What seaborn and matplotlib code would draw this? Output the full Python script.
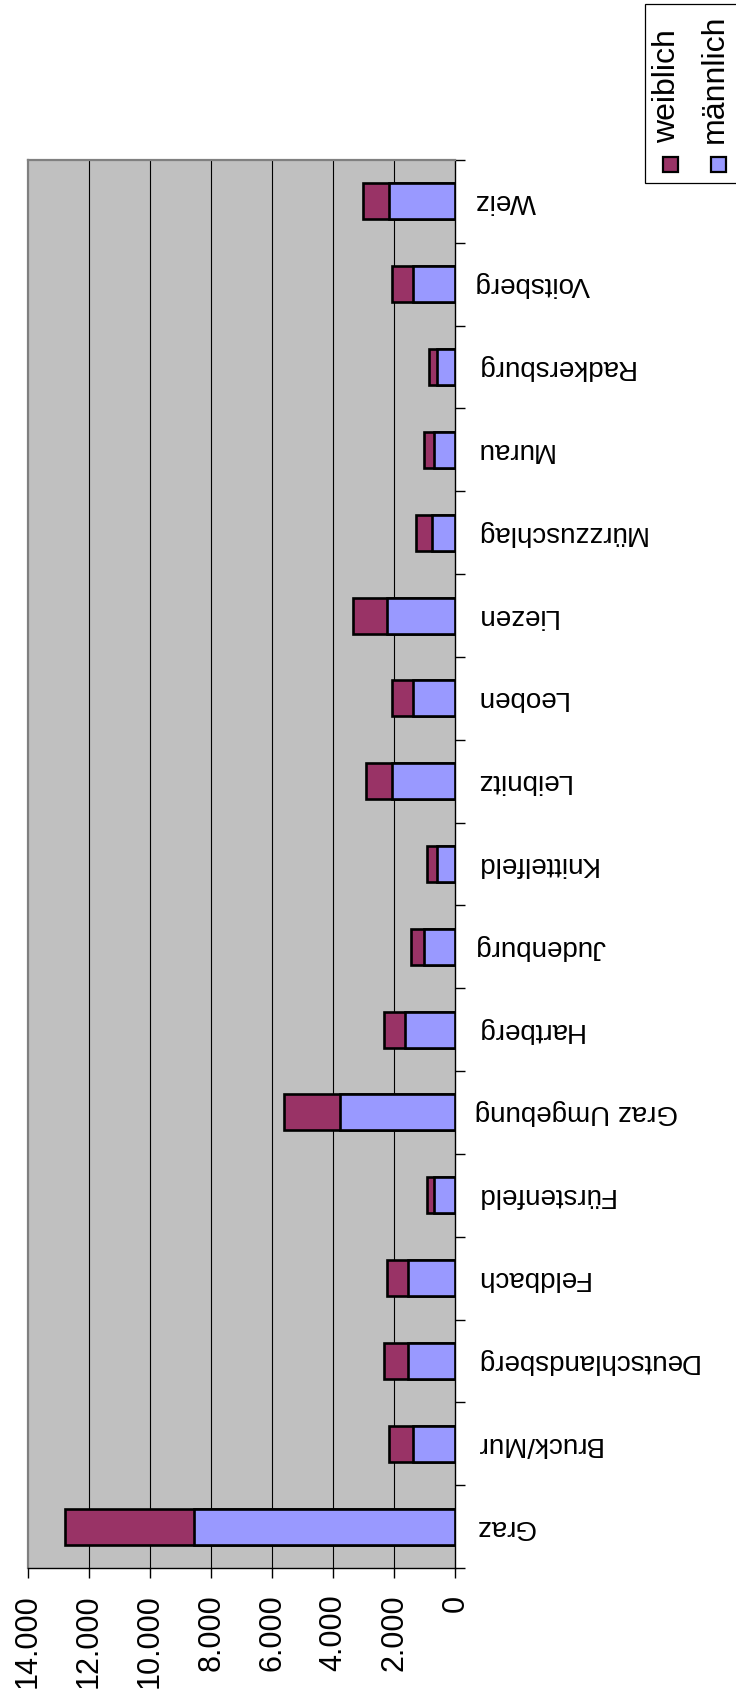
import matplotlib
matplotlib.use('Agg')
import matplotlib.pyplot as plt
import numpy as np
import pandas as pd
import seaborn as sns
from matplotlib.patches import Rectangle

# data (Bezirke, bottom to top)
bezirke = ['Graz', 'Bruck/Mur', 'Deutschlandsberg', 'Feldbach', 'Fürstenfeld',
           'Graz Umgebung', 'Hartberg', 'Judenburg', 'Knittelfeld', 'Leibnitz',
           'Leoben', 'Liezen', 'Mürzzuschlag', 'Murau', 'Radkersburg',
           'Voitsberg', 'Weiz']
maennlich = [8560, 1380, 1540, 1540, 690, 3780, 1640, 1030, 610, 2060,
             1380, 2230, 750, 700, 610, 1380, 2160]
weiblich = [4230, 780, 790, 700, 250, 1830, 690, 430, 330, 870,
            680, 1130, 540, 330, 240, 695, 850]
x_ticks = [0, 2000, 4000, 6000, 8000, 10000, 12000, 14000]
x_tick_labels = ['0', '2.000', '4.000', '6.000', '8.000', '10.000', '12.000', '14.000']
legend_labels = ['weiblich', 'männlich']

plt.rcParams['font.family'] = ['Liberation Sans', 'DejaVu Sans']

W, H = 736, 1700
col_w = '#993366'
col_m = '#9999FF'

df = pd.DataFrame({'bezirk': bezirke, 'maennlich': maennlich, 'weiblich': weiblich})
df['gesamt'] = df['maennlich'] + df['weiblich']

fig = plt.figure(figsize=(W / 100, H / 100), dpi=100)
ax = fig.add_axes([28 / W, 1 - 1568 / H, (455.3 - 28) / W, (1568 - 160) / H])
ax.set_facecolor('#C0C0C0')

# grid first
for t in x_ticks[1:-1]:
    ax.axvline(t, color='black', lw=0.8, zorder=0)

# stacked: total (weiblich colour) underneath, männlich on top
sns.barplot(data=df, x='gesamt', y='bezirk', orient='h', color=col_w, saturation=1,
            width=0.435, edgecolor='black', linewidth=1.9, errorbar=None, ax=ax, zorder=2)
sns.barplot(data=df, x='maennlich', y='bezirk', orient='h', color=col_m, saturation=1,
            width=0.435, edgecolor='black', linewidth=1.9, errorbar=None, ax=ax, zorder=3)

ax.set_xlim(14000, 0)
ax.set_ylim(-0.5, len(bezirke) - 0.5)
ax.set_xlabel('')
ax.set_ylabel('')

# value axis (bottom)
ax.set_xticks(x_ticks)
ax.set_xticklabels(x_tick_labels, rotation=90, fontsize=22)
ax.tick_params(axis='x', direction='out', length=7, width=1, pad=12, color='black')

# category axis (right)
ax.yaxis.tick_right()
ax.set_yticks(range(len(bezirke)))
ax.set_yticklabels(bezirke, rotation=180, fontsize=20, va='center')
ax.set_yticks(np.arange(-0.5, len(bezirke), 1), minor=True)
ax.tick_params(axis='y', which='major', length=0, pad=14, right=True, left=False)
ax.tick_params(axis='y', which='minor', length=7, width=1, right=True, left=False, color='black')

for s in ['left', 'top']:
    ax.spines[s].set_color('#808080')
    ax.spines[s].set_linewidth(1.6)
for s in ['right', 'bottom']:
    ax.spines[s].set_color('black')
    ax.spines[s].set_linewidth(1)


def fx(x):
    return x / W


def fy(y):
    return 1 - y / H


# legend (rotated like the rest)
fig.add_artist(Rectangle((fx(645), fy(183)), fx(760) - fx(645), fy(4) - fy(183),
                         transform=fig.transFigure, facecolor='white', edgecolor='black',
                         lw=0.9, clip_on=False))
for lbl, col, xc in zip(legend_labels, [col_w, col_m], [670.5, 718.3]):
    fig.add_artist(Rectangle((fx(xc - 7.5), fy(172)), 15 / W, 15 / H,
                             transform=fig.transFigure, facecolor=col, edgecolor='black',
                             lw=1.6, clip_on=False))
    fig.text(fx(xc - 3), fy(143), lbl, rotation=90, ha='center', va='bottom', fontsize=23)

fig.savefig('out.png', dpi=100)
